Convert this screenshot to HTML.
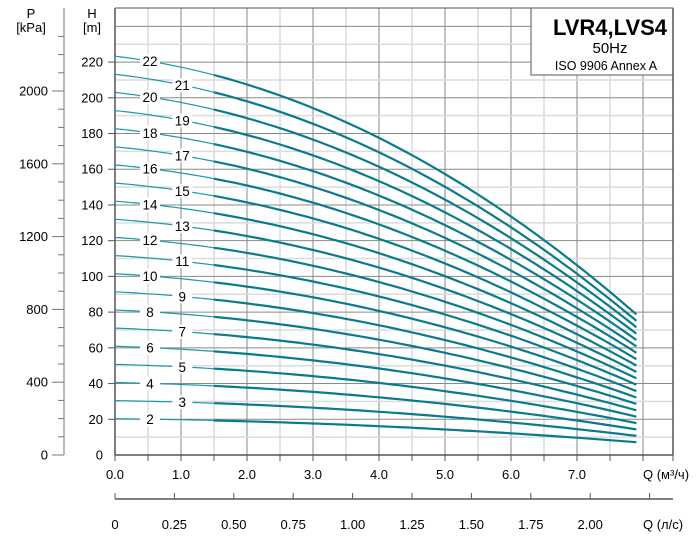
<!DOCTYPE html>
<html><head><meta charset="utf-8"><style>
html,body{margin:0;padding:0;background:#fff;}
svg{display:block;font-family:"Liberation Sans",sans-serif;}
</style></head><body>
<svg id="s" width="700" height="545" viewBox="0 0 700 545" xmlns="http://www.w3.org/2000/svg"></svg>
<script>
const s=document.getElementById('s');let h='';
const X=q=>115+q*66, Y=v=>455-v*1.786;
const L=673,T=8,B=455;
for(let q=0.5;q<8.45;q+=0.5){const x=X(q);const maj=Math.abs(q-Math.round(q))<0.01;
h+=`<line x1="${x}" y1="${T}" x2="${x}" y2="${B}" stroke="${maj?'#8a8a8a':'#dcdcdc'}" stroke-width="${maj?1:1.5}"/>`;}
for(let v=10;v<=245;v+=10){const y=Y(v);const maj=v%20==0;
h+=`<line x1="115" y1="${y}" x2="${L}" y2="${y}" stroke="${maj?'#8a8a8a':'#dcdcdc'}" stroke-width="${maj?1:1.5}"/>`;
if(maj&&v<=220) h+=`<line x1="108" y1="${y}" x2="115" y2="${y}" stroke="#555"/>`;}
h+=`<rect x="531" y="8" width="142" height="67" fill="#fff" stroke="#555"/>`;
h+=`<text x="610" y="35" font-size="22" font-weight="bold" text-anchor="middle">LVR4,LVS4</text>`;
h+=`<text x="610" y="53" font-size="15" text-anchor="middle">50Hz</text>`;
h+=`<text x="606" y="70" font-size="12.5" text-anchor="middle">ISO 9906 Annex A</text>`;
h+=`<line x1="115" y1="${T}" x2="531" y2="${T}" stroke="#555"/>`;
h+=`<line x1="115" y1="${T}" x2="115" y2="${B}" stroke="#555" stroke-width="1.5"/>`;
h+=`<line x1="${L}" y1="${T}" x2="${L}" y2="${B}" stroke="#555" stroke-width="1.5"/>`;
h+=`<line x1="115" y1="${B}" x2="${L}" y2="${B}" stroke="#555" stroke-width="1.5"/>`;
for(let q=0;q<8.45;q+=0.5){const x=X(q);h+=`<line x1="${x}" y1="${B}" x2="${x}" y2="${B+6}" stroke="#555"/>`;
if(Math.abs(q-Math.round(q))<0.01&&q<7.5)h+=`<text x="${x}" y="479" font-size="13" text-anchor="middle">${q.toFixed(1)}</text>`;}
h+=`<line x1="${L}" y1="${B}" x2="${L}" y2="${B+6}" stroke="#555"/>`;
h+=`<text x="643" y="479" font-size="13">Q (м³/ч)</text>`;
for(let v=0;v<=220;v+=20)h+=`<text x="103" y="${Y(v)+4.5}" font-size="13" text-anchor="end">${v}</text>`;
h+=`<text x="92" y="18" font-size="13" text-anchor="middle">H</text><text x="92" y="32" font-size="13" text-anchor="middle">[m]</text>`;
h+=`<line x1="64" y1="8" x2="64" y2="${B}" stroke="#777"/>`;
for(let p=0;p<=2300;p+=100){const y=455-p*0.182;if(y<35)break;const lab=p%400==0;
h+=`<line x1="${lab?52:58}" y1="${y}" x2="64" y2="${y}" stroke="#777"/>`;
if(lab&&p<=2000)h+=`<text x="48" y="${y+4.5}" font-size="13" text-anchor="end">${p}</text>`;}
h+=`<text x="31" y="18" font-size="13" text-anchor="middle">P</text><text x="31" y="32" font-size="13" text-anchor="middle">[kPa]</text>`;
h+=`<line x1="115" y1="499" x2="${L}" y2="499" stroke="#555" stroke-width="1.5"/>`;
const ls=['0','0.25','0.50','0.75','1.00','1.25','1.50','1.75','2.00'];
for(let i=0;i<=9;i++){const x=115+i*59.4;if(x>L)break;h+=`<line x1="${x}" y1="493" x2="${x}" y2="499" stroke="#555"/>`;
if(i<9)h+=`<text x="${x}" y="529" font-size="13" text-anchor="middle">${ls[i]}</text>`;}
h+=`<text x="643" y="529" font-size="13">Q (л/с)</text>`;
const f=(n,q)=>n*(10.15-0.2*q-0.08*q*q);
for(let n=2;n<=22;n++){let a='',b='';
for(let q=0;q<=1.5001;q+=0.1)a+=(a?'L':'M')+X(q).toFixed(1)+','+Y(f(n,q)).toFixed(1);
for(let q=1.5;q<=7.9001;q+=0.1)b+=(b?'L':'M')+X(q).toFixed(1)+','+Y(f(n,q)).toFixed(1);
h+=`<path d="${a}" fill="none" stroke="#1a9aa8" stroke-width="1.2"/>`;
h+=`<path d="${b}" fill="none" stroke="#0a7b8c" stroke-width="2.2"/>`;
const ql=n%2==0?0.53:1.02;const x=X(ql),y=Y(f(n,ql));
h+=`<rect x="${x-10}" y="${y-7}" width="20" height="14" fill="#fff"/>`;
h+=`<text x="${x}" y="${y+5}" font-size="13.5" text-anchor="middle">${n}</text>`;}
s.innerHTML=h;
</script>
</body></html>
